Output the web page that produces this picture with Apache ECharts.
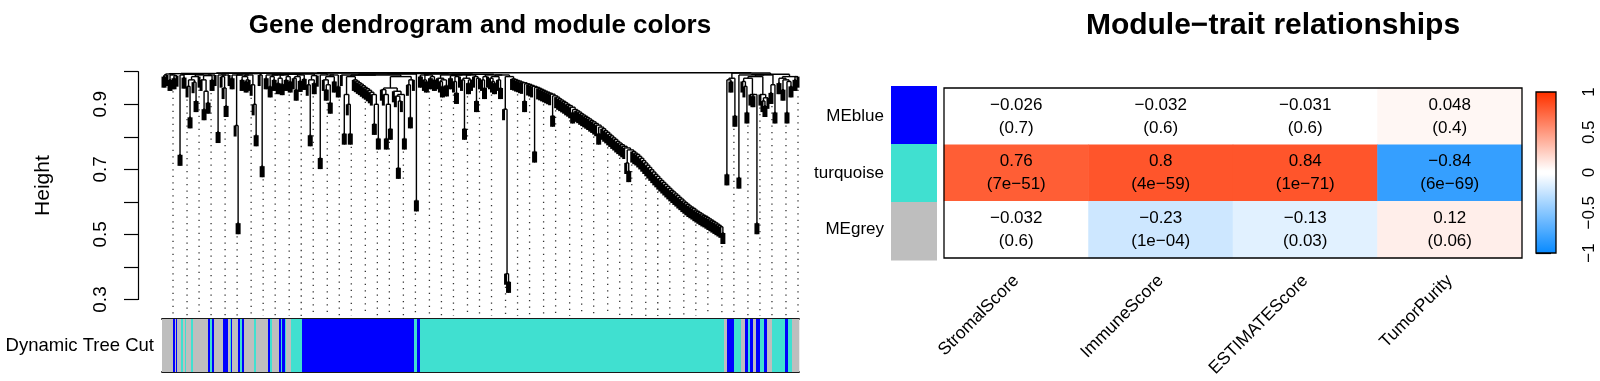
<!DOCTYPE html>
<html><head><meta charset="utf-8">
<script src="https://cdn.jsdelivr.net/npm/echarts@6/dist/echarts.min.js"></script>
<style>html,body{margin:0;padding:0;background:#fff}#c{width:1600px;height:381px}</style>
</head><body><div id="c"></div>
<script>
// ---------------- data ----------------
// Dendrogram: merge height between consecutive leaves (in leaf order)
const dendroGapsA = [0.985,0.99,0.993,0.975,0.99,0.98,0.988,0.994,0.745,0.99,
 0.982,0.992,0.955,0.86,0.975,0.968,0.91,0.985,0.99,0.975,
 0.885,0.94,0.905,0.988,0.975,0.99,0.995,0.815,0.99,0.985,
 0.95,0.895,0.99,0.995,0.98,0.99,0.835,0.535,0.99,0.975,
 0.985,0.97,0.975,0.99,0.96,0.9,0.805,0.994,0.99,0.71,
 0.995,0.98,0.99,0.955,0.985,0.975,0.99,0.965,0.98,0.962,
 0.99,0.975,0.985,0.97,0.992,0.98,0.945,0.985,0.972,0.99,
 0.978,0.993,0.96,0.805,0.975,0.965,0.988,0.994,0.735,0.99,
 0.975,0.945,0.96,0.905,0.985,0.97,0.99,0.955,0.996];
const dendroGapsB = [0.99,0.81,0.93,0.9,0.81,0.985,0.975,0.971,0.966,0.962,
 0.957,0.952,0.948,0.943,0.937,0.93,0.84,0.9,0.795,0.99,
 0.945,0.93,0.795,0.9,0.825,0.95,0.94,0.925,0.705,0.91,
 0.93,0.795,0.985,0.96,0.86,0.975,0.993,0.605,0.994];
const dendroGapsC = [0.985,0.99,0.975,0.97,0.99,0.98,0.985,0.975,0.993,0.98,
 0.97,0.955,0.975,0.958,0.99,0.98,0.988,0.97,0.935,0.985,
 0.99,0.975,0.825,0.98,0.965,0.975,0.99,0.985,0.91,0.98,
 0.992,0.975,0.95,0.985,0.99,0.98,0.97,0.965,0.985,0.975,
 0.95,0.99,0.885,0.38,0.355,0.985];
const dendroGapsD = [0.978,0.976,0.973,0.971,0.968,0.966,0.91,0.963,0.961,0.958,
 0.955,0.755,0.952,0.949,0.946,0.943,0.94,0.937,0.934,0.931,
 0.865,0.926,0.922,0.917,0.913,0.909,0.905,0.9,0.896,0.891,
 0.875,0.884,0.88,0.876,0.871,0.867,0.863,0.859,0.855,0.85,
 0.846,0.841,0.836,0.81,0.83,0.825,0.819,0.814,0.808,0.803,
 0.797,0.792,0.786,0.781,0.776,0.771,0.766,0.72,0.695,0.76,
 0.755,0.75,0.746,0.74,0.734,0.727,0.72,0.713,0.706,0.699,
 0.692,0.685,0.679,0.672,0.666,0.66,0.654,0.648,0.642,0.636,
 0.631,0.625,0.62,0.614,0.609,0.603,0.598,0.593,0.588,0.584,
 0.58,0.575,0.571,0.567,0.563,0.559,0.556,0.552,0.548,0.544,
 0.54,0.536,0.532,0.528,0.524,0.505,0.997];
const dendroGapsE = [0.685,0.975,0.97,0.98,0.865,0.996,0.675,0.99,0.97,0.955,
 0.875,0.98,0.93,0.925,0.93,0.535,0.985,0.93,0.91,0.895,
 0.92,0.99,0.935,0.96,0.875,0.992,0.965,0.98,0.945,0.975,
 0.875,0.97,0.955,0.985,0.975,0.985];

// Dynamic Tree Cut colour bar: run-length of module colours along the leaf order
const treeCutRunModules = ['grey','blue','grey','blue','grey','turquoise','grey','turquoise','grey','turquoise',
 'grey','blue','turquoise','blue','grey','blue','grey','turquoise','blue','grey',
 'blue','turquoise','blue','grey','turquoise','grey','blue','turquoise','grey','blue',
 'turquoise','blue','turquoise','grey','turquoise','blue','turquoise','blue','turquoise','grey',
 'blue','turquoise','grey','blue','turquoise','blue','grey','blue','turquoise','blue',
 'grey','turquoise','blue','turquoise','grey'];
const treeCutRunLengths = [11,2,1,1,4,2,2,1,5,2,
 15,2,2,2,9,5,2,1,1,6,
 2,2,2,10,2,12,2,2,7,2,
 1,3,1,5,11,112,3,3,304,3,
 7,7,4,3,2,3,3,4,4,3,
 5,13,3,4,7];

const heightTickLabels = [0.3, 0.5, 0.7, 0.9];

// Module-trait heatmap
const traits = ['StromalScore','ImmuneScore','ESTIMATEScore','TumorPurity'];
const moduleLabels = ['MEblue','turquoise','MEgrey'];
const moduleSwatch = ['blue','turquoise','grey'];
const corBlue = [-0.026,-0.032,-0.031,0.048];
const corTurquoise = [0.76,0.8,0.84,-0.84];
const corGrey = [-0.032,-0.23,-0.13,0.12];
const pBlue = ['0.7','0.6','0.6','0.4'];
const pTurquoise = ['7e\u221251','4e\u221259','1e\u221271','6e\u221269'];
const pGrey = ['0.6','1e\u221204','0.03','0.06'];
const colorbarTicks = [-1,-0.5,0,0.5,1];

// ---------------- styling ----------------
const FONT = "'Liberation Sans', Arial, Helvetica, sans-serif";
const COLORS = {grey:'#BEBEBE', blue:'#0000FF', turquoise:'#40E0D0'};
const BLUE_END = [13,140,255], WHITE = [255,255,255], RED_END = [255,51,0];
const NBINS = 50;
const HANG = 0.034;
const GUIDES = 50;

// blue-white-red palette with NBINS discrete colours (two white bins in the middle)
function mix(a, b, f) { return 'rgb(' + a.map((v, i) => Math.round(v + (b[i] - v) * f)).join(',') + ')'; }
const half = NBINS / 2;
const palette = [];
for (let b = 0; b < NBINS; b++) palette.push(b < half ? mix(BLUE_END, WHITE, b / (half - 1)) : mix(WHITE, RED_END, (b - half) / (half - 1)));
const pieces = palette.map((c, b) => {
  const lo = -1 + b * 2 / NBINS, hi = -1 + (b + 1) * 2 / NBINS;
  return b === NBINS - 1 ? {gte: lo, lte: hi, color: c} : {gte: lo, lt: hi, color: c};
});

// ---------------- build dendrogram ----------------
const gaps = [].concat(dendroGapsA, dendroGapsB, dendroGapsC, dendroGapsD, dendroGapsE);
const N = gaps.length + 1;
const segs = [];          // [x1, y1, x2, y2, isLeafStem]
const leafBottom = new Array(N);
function build(a, b) {
  if (a === b) return {x: a + 0.5, leaf: true, i: a};
  let k = a;
  for (let j = a + 1; j < b; j++) if (gaps[j] > gaps[k]) k = j;
  const h = gaps[k];
  const L = build(a, k), R = build(k + 1, b);
  [L, R].forEach(c => {
    if (c.leaf) { const bottom = h - HANG; leafBottom[c.i] = bottom; segs.push([c.x, h, c.x, bottom, 1]); }
    else segs.push([c.x, h, c.x, c.h, 0]);
  });
  segs.push([L.x, h, R.x, h, 0]);
  return {x: (L.x + R.x) / 2, h: h};
}
build(0, N - 1);
const guideSegs = [];
for (let k = 1; k <= GUIDES; k++) {
  const i = Math.min(N - 1, Math.round(k * N / GUIDES) - 1);
  guideSegs.push([i + 0.5, leafBottom[i] - 0.006, i + 0.5, 0.25, 0]);
}
const runs = [];
let pos = 0;
treeCutRunLengths.forEach((len, j) => { runs.push([pos, pos + len, j]); pos += len; });
const nGenes = pos;

const corRows = [corBlue, corTurquoise, corGrey];
const pRows = [pBlue, pTurquoise, pGrey];
const heatData = [];
corRows.forEach((row, r) => row.forEach((v, c) => heatData.push([c, r, v])));
const fmtNum = v => (v < 0 ? '\u2212' + String(Math.abs(v)) : String(v));

function lineItem(stroke, width, stemWidth, dash) {
  return function (params, api) {
    const p1 = api.coord([api.value(0), api.value(1)]);
    const p2 = api.coord([api.value(2), api.value(3)]);
    const st = {stroke: stroke, lineWidth: api.value(4) ? stemWidth : width, lineCap: 'butt'};
    if (dash) st.lineDash = dash;
    return {type: 'line', shape: {x1: p1[0], y1: p1[1], x2: p2[0], y2: p2[1]}, style: st, silent: true};
  };
}

const chart = echarts.init(document.getElementById('c'), null, {renderer: 'canvas'});
const hidden = {show: false};
chart.setOption({
  animation: false,
  textStyle: {fontFamily: FONT},
  title: [
    {text: 'Gene dendrogram and module colors', left: 475, top: 8, textAlign: 'center',
     textStyle: {fontSize: 26, fontWeight: 'bold', fontFamily: FONT, color: '#000'}},
    {text: 'Module\u2212trait relationships', left: 1268, top: 6, textAlign: 'center',
     textStyle: {fontSize: 30, fontWeight: 'bold', fontFamily: FONT, color: '#000'}}
  ],
  grid: [
    {left: 162, top: 65.2, width: 637, height: 250.8},
    {left: 138, top: 71.7, width: 1, height: 227.8},
    {left: 162, top: 319, width: 637, height: 53},
    {left: 944, top: 88, width: 578, height: 170, show: true, borderColor: '#000', borderWidth: 1.3, z: 10, backgroundColor: 'transparent'},
    {left: 891, top: 86, width: 46, height: 174},
    {left: 1536, top: 92, width: 20, height: 161, show: true, borderColor: '#000', borderWidth: 1.3, z: 10, backgroundColor: 'transparent'}
  ],
  xAxis: [
    {gridIndex: 0, type: 'value', min: 0, max: N, show: false},
    {gridIndex: 1, type: 'value', min: 0, max: 1, show: false},
    {gridIndex: 2, type: 'value', min: 0, max: nGenes, position: 'bottom', axisLine: {show: true, onZero: false, lineStyle: {color: '#1a1a1a', width: 1.8}}, axisTick: hidden, axisLabel: hidden, splitLine: hidden},
    {gridIndex: 3, type: 'category', data: traits, axisLine: hidden, axisTick: hidden, splitLine: hidden,
     axisLabel: {rotate: 45, fontSize: 17.5, color: '#000', margin: 20, fontFamily: FONT, interval: 0}},
    {gridIndex: 4, type: 'category', data: [''], show: false},
    {gridIndex: 5, type: 'value', min: 0, max: 1, show: false},
    {gridIndex: 2, type: 'value', min: 0, max: nGenes, position: 'top', axisLine: {show: true, onZero: false, lineStyle: {color: '#1a1a1a', width: 1.8}}, axisTick: hidden, axisLabel: hidden, splitLine: hidden}
  ],
  yAxis: [
    {gridIndex: 0, type: 'value', min: 0.25, max: 1.02, show: false},
    {gridIndex: 1, type: 'value', min: 0.3, max: 1.0, interval: 0.1, position: 'left',
     axisLine: {show: true, lineStyle: {color: '#000', width: 1.2}},
     axisTick: {show: true, length: 14, lineStyle: {color: '#000', width: 1.2}},
     splitLine: hidden,
     axisLabel: {rotate: 90, fontSize: 19, color: '#000', margin: 28, fontFamily: FONT,
       formatter: v => heightTickLabels.some(t => Math.abs(t - v) < 1e-6) ? v.toFixed(1) : ''},
     name: 'Height', nameLocation: 'middle', nameRotate: 90, nameGap: 84,
     nameTextStyle: {fontSize: 21, color: '#000', fontFamily: FONT}},
    {gridIndex: 2, type: 'category', data: ['Dynamic Tree Cut'], axisLine: hidden, axisTick: hidden,
     axisLabel: {fontSize: 18.5, color: '#000', margin: 8, fontFamily: FONT}},
    {gridIndex: 3, type: 'category', data: moduleLabels, inverse: true, axisLine: hidden, axisTick: hidden, splitLine: hidden,
     axisLabel: {fontSize: 17, color: '#000', margin: 60, fontFamily: FONT}},
    {gridIndex: 4, type: 'category', data: moduleLabels, inverse: true, show: false},
    {gridIndex: 5, type: 'value', min: -1, max: 1, interval: 0.5, position: 'right',
     axisLine: hidden, splitLine: hidden,
     axisTick: {show: true, length: 15, lineStyle: {color: '#000', width: 1.2}},
     axisLabel: {rotate: 90, fontSize: 17, color: '#000', margin: 25, fontFamily: FONT,
       formatter: v => fmtNum(Math.round(v * 10) / 10)}}
  ],
  visualMap: {show: false, type: 'piecewise', dimension: 2, seriesIndex: 3, pieces: pieces},
  series: [
    {type: 'custom', xAxisIndex: 0, yAxisIndex: 0, data: guideSegs, renderItem: lineItem('#333', 1.3, 1.3, [1.3, 5.2]),
     encode: {x: [0, 2], y: [1, 3]}, silent: true, progressive: 0, z: 1},
    {type: 'custom', xAxisIndex: 0, yAxisIndex: 0, data: segs, renderItem: lineItem('#000', 1.4, 3.0),
     encode: {x: [0, 2], y: [1, 3]}, silent: true, progressive: 0, z: 2},
    {type: 'custom', xAxisIndex: 2, yAxisIndex: 2, data: runs, silent: true, progressive: 0,
     encode: {x: [0, 1]},
     renderItem: (params, api) => {
       const p1 = api.coord([api.value(0), 0]);
       const p2 = api.coord([api.value(1), 0]);
       const sz = api.size([0, 1]);
       const col = COLORS[treeCutRunModules[api.value(2)]];
       return {type: 'rect', shape: {x: p1[0], y: p1[1] - sz[1] / 2, width: p2[0] - p1[0] + 0.3, height: sz[1]}, style: {fill: col}};
     }},
    {type: 'heatmap', xAxisIndex: 3, yAxisIndex: 3, data: heatData, silent: true,
     label: {show: true, color: '#000', fontSize: 17, lineHeight: 23, fontFamily: FONT,
       formatter: p => fmtNum(p.value[2]) + '\n(' + pRows[p.value[1]][p.value[0]] + ')'},
     emphasis: {disabled: true}},
    {type: 'custom', xAxisIndex: 4, yAxisIndex: 4, data: moduleSwatch.map((m, i) => [0, i]), silent: true,
     renderItem: (params, api) => {
       const c = api.coord([api.value(0), api.value(1)]);
       const s = api.size([1, 1]);
       return {type: 'rect', shape: {x: c[0] - s[0] / 2, y: c[1] - s[1] / 2, width: s[0], height: s[1] + 0.5}, style: {fill: COLORS[moduleSwatch[params.dataIndex]]}};
     }},
    {type: 'custom', xAxisIndex: 5, yAxisIndex: 5, data: [[colorbarTicks[0], colorbarTicks[colorbarTicks.length - 1]]], silent: true,
     renderItem: (params, api) => {
       const lo = api.coord([0, api.value(0)]);
       const hi = api.coord([1, api.value(1)]);
       const stops = palette.map((c, i) => ({offset: (i + 0.5) / NBINS, color: c}));
       return {type: 'rect', shape: {x: lo[0], y: hi[1], width: hi[0] - lo[0], height: lo[1] - hi[1]},
         style: {fill: new echarts.graphic.LinearGradient(0, 1, 0, 0, stops)}};
     }}
  ]
});
</script></body></html>
